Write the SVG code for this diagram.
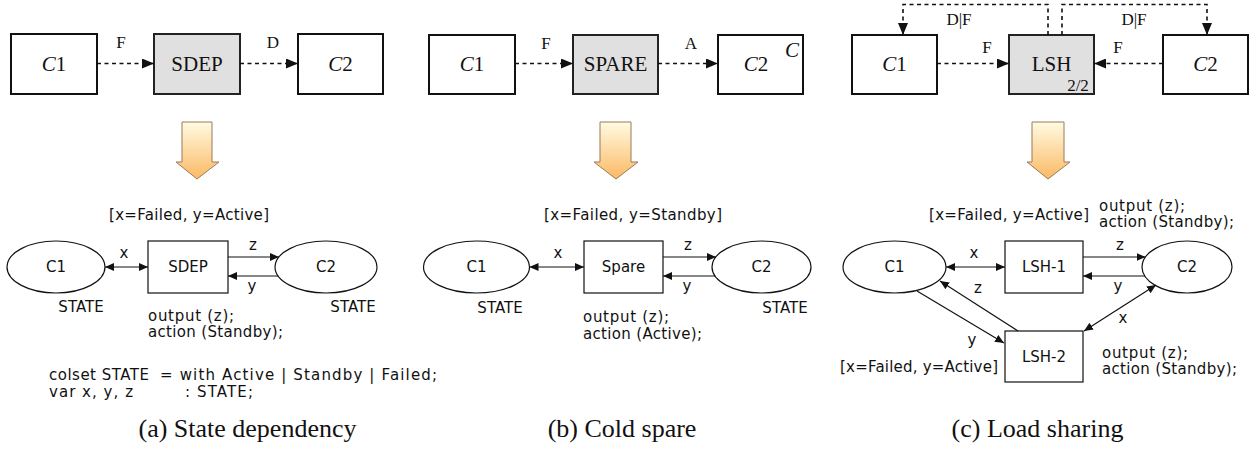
<svg xmlns="http://www.w3.org/2000/svg" width="1253" height="456" viewBox="0 0 1253 456">
  <style>
    .bg { fill: #ffffff; }
    .box { fill: #ffffff; stroke: #111; stroke-width: 2; }
    .gate { fill: #e0e0e0; stroke: #222; stroke-width: 2; }
    .serif { font-family: "Liberation Serif", "Times New Roman", serif; fill: #111; }
    .big { font-size: 21px; }
    .lbl { font-size: 17px; }
    .cap { font-size: 26px; }
    .it { font-style: italic; }
    .sans { font-family: "DejaVu Sans", "Liberation Sans", sans-serif; font-size: 15px; fill: #111; }
    .dash { fill: none; stroke: #111; stroke-width: 1.6; stroke-dasharray: 4 3.5; }
    .arc { fill: none; stroke: #111; stroke-width: 1.2; }
    .place { fill: #ffffff; stroke: #111; stroke-width: 1.2; }
    .trans { fill: #ffffff; stroke: #111; stroke-width: 1.2; }
    .block { fill: url(#orange); stroke: #9a7a58; stroke-width: 1; }
  </style>
  <defs>
    <marker id="ah" markerUnits="userSpaceOnUse" markerWidth="12" markerHeight="10" refX="12" refY="5" orient="auto">
      <path d="M0,0 L12,5 L0,10 z" fill="#111"/>
    </marker>
    <marker id="sa" markerUnits="userSpaceOnUse" markerWidth="9" markerHeight="8" refX="9" refY="4" orient="auto-start-reverse">
      <path d="M0,0 L9,4 L0,8 z" fill="#111"/>
    </marker>
    <linearGradient id="orange" x1="0" y1="0" x2="0" y2="1">
      <stop offset="0" stop-color="#fffbe2"/>
      <stop offset="1" stop-color="#fbb964"/>
    </linearGradient>
  </defs>

  <rect class="bg" x="0" y="0" width="1253" height="456"/>

  <!-- (a) state dependency: fault-tree view -->
  <g id="a-c1">
    <rect class="box" x="11" y="34" width="86" height="60"/>
    <text class="serif big" x="54" y="71" text-anchor="middle"><tspan class="it">C</tspan>1</text>
  </g>
  <g id="a-sdep">
    <rect class="gate" x="154" y="34" width="86" height="60"/>
    <text class="serif big" x="197" y="71" text-anchor="middle">SDEP</text>
  </g>
  <g id="a-c2">
    <rect class="box" x="298" y="34" width="85" height="60"/>
    <text class="serif big" x="340.5" y="71" text-anchor="middle"><tspan class="it">C</tspan>2</text>
  </g>

  <!-- (b) cold spare: fault-tree view -->
  <g id="b-c1">
    <rect class="box" x="429" y="35" width="86" height="59"/>
    <text class="serif big" x="472" y="71" text-anchor="middle"><tspan class="it">C</tspan>1</text>
  </g>
  <g id="b-spare">
    <rect class="gate" x="573" y="35" width="85" height="59"/>
    <text class="serif big" x="615.5" y="71" text-anchor="middle">SPARE</text>
  </g>
  <g id="b-c2">
    <rect class="box" x="718" y="35" width="85" height="59"/>
    <text class="serif big" x="756" y="71" text-anchor="middle"><tspan class="it">C</tspan>2</text>
    <text class="serif big it" x="792" y="57" text-anchor="middle">C</text>
  </g>

  <!-- (c) load sharing: fault-tree view -->
  <g id="c-c1">
    <rect class="box" x="852" y="35" width="85" height="59"/>
    <text class="serif big" x="894.5" y="71" text-anchor="middle"><tspan class="it">C</tspan>1</text>
  </g>
  <g id="c-lsh">
    <rect class="gate" x="1009" y="35" width="85" height="59"/>
    <text class="serif big" x="1051.5" y="71" text-anchor="middle">LSH</text>
    <text class="serif lbl" x="1078" y="91" text-anchor="middle">2/2</text>
  </g>
  <g id="c-c2">
    <rect class="box" x="1163" y="35" width="85" height="59"/>
    <text class="serif big" x="1205.5" y="71" text-anchor="middle"><tspan class="it">C</tspan>2</text>
  </g>

  <!-- transformation arrows -->
  <g id="down-a"><path class="block" d="M182,122 H212 V162 H219 L197,179 L176,162 H182 Z"/></g>
  <g id="down-b"><path class="block" d="M600,122 H631 V162 H638 L616,179 L594,162 H600 Z"/></g>
  <g id="down-c"><path class="block" d="M1032,122 H1064 V162 H1070 L1048,179 L1027,162 H1032 Z"/></g>

  <!-- (a) coloured Petri net -->
  <g id="a-p1">
    <ellipse class="place" cx="56" cy="267" rx="49" ry="26"/>
    <text class="sans" x="56" y="272" text-anchor="middle">C1</text>
    <text class="sans" x="81" y="312" text-anchor="middle">STATE</text>
  </g>
  <g id="a-t">
    <rect class="trans" x="148" y="241" width="80" height="52"/>
    <text class="sans" x="188" y="272" text-anchor="middle">SDEP</text>
    <text class="sans" x="109" y="220" textLength="160">[x=Failed, y=Active]</text>
    <text class="sans" x="148" y="321" textLength="86">output (z);</text>
    <text class="sans" x="148" y="337" textLength="135">action (Standby);</text>
  </g>
  <g id="a-p2">
    <ellipse class="place" cx="326" cy="267" rx="51" ry="26"/>
    <text class="sans" x="326" y="272" text-anchor="middle">C2</text>
    <text class="sans" x="353" y="312" text-anchor="middle">STATE</text>
  </g>
  <g id="a-decl">
    <text class="sans" x="49" y="380" textLength="100">colset STATE</text>
    <text class="sans" x="160" y="380" textLength="277">= with Active | Standby | Failed;</text>
    <text class="sans" x="49" y="397" textLength="84">var x, y, z</text>
    <text class="sans" x="185" y="397" textLength="68">: STATE;</text>
  </g>

  <!-- (b) coloured Petri net -->
  <g id="b-p1">
    <ellipse class="place" cx="476.5" cy="267" rx="53" ry="26"/>
    <text class="sans" x="476.5" y="272" text-anchor="middle">C1</text>
    <text class="sans" x="500" y="313" text-anchor="middle">STATE</text>
  </g>
  <g id="b-t">
    <rect class="trans" x="584" y="241" width="79" height="52"/>
    <text class="sans" x="623.5" y="272" text-anchor="middle">Spare</text>
    <text class="sans" x="544" y="220" textLength="178">[x=Failed, y=Standby]</text>
    <text class="sans" x="583" y="322" textLength="86">output (z);</text>
    <text class="sans" x="583" y="339" textLength="119">action (Active);</text>
  </g>
  <g id="b-p2">
    <ellipse class="place" cx="761.5" cy="267" rx="49.5" ry="26"/>
    <text class="sans" x="761.5" y="272" text-anchor="middle">C2</text>
    <text class="sans" x="785" y="313" text-anchor="middle">STATE</text>
  </g>

  <!-- (c) coloured Petri net -->
  <g id="c-p1">
    <ellipse class="place" cx="894.5" cy="267" rx="51.5" ry="26"/>
    <text class="sans" x="894.5" y="272" text-anchor="middle">C1</text>
  </g>
  <g id="c-t1">
    <rect class="trans" x="1005" y="241" width="78" height="52"/>
    <text class="sans" x="1044" y="272" text-anchor="middle">LSH-1</text>
    <text class="sans" x="929" y="220" textLength="160">[x=Failed, y=Active]</text>
    <text class="sans" x="1099" y="211" textLength="86">output (z);</text>
    <text class="sans" x="1099" y="227" textLength="135">action (Standby);</text>
  </g>
  <g id="c-p2">
    <ellipse class="place" cx="1187" cy="267" rx="45" ry="26"/>
    <text class="sans" x="1187" y="272" text-anchor="middle">C2</text>
  </g>
  <g id="c-t2">
    <rect class="trans" x="1005" y="331" width="78" height="51"/>
    <text class="sans" x="1044" y="362" text-anchor="middle">LSH-2</text>
    <text class="sans" x="840" y="372" textLength="158">[x=Failed, y=Active]</text>
    <text class="sans" x="1102" y="358" textLength="86">output (z);</text>
    <text class="sans" x="1102" y="374" textLength="135">action (Standby);</text>
  </g>

  <!-- connectors -->
  <g id="connectors">
    <!-- fault-tree dependencies -->
    <line class="dash" x1="97" y1="63.5" x2="154" y2="63.5" marker-end="url(#ah)"/>
    <line class="dash" x1="240" y1="63.5" x2="298" y2="63.5" marker-end="url(#ah)"/>
    <line class="dash" x1="515" y1="63.5" x2="573" y2="63.5" marker-end="url(#ah)"/>
    <line class="dash" x1="658" y1="63.5" x2="718" y2="63.5" marker-end="url(#ah)"/>
    <line class="dash" x1="937" y1="63.5" x2="1009" y2="63.5" marker-end="url(#ah)"/>
    <line class="dash" x1="1163" y1="63.5" x2="1094" y2="63.5" marker-end="url(#ah)"/>
    <path class="dash" d="M1048,35 V4.5 H903 V35" marker-end="url(#ah)"/>
    <path class="dash" d="M1062,35 V4.5 H1207 V35" marker-end="url(#ah)"/>
    <text class="serif lbl" x="121" y="48" text-anchor="middle">F</text>
    <text class="serif lbl" x="273" y="48" text-anchor="middle">D</text>
    <text class="serif lbl" x="546" y="49" text-anchor="middle">F</text>
    <text class="serif lbl" x="691" y="49" text-anchor="middle">A</text>
    <text class="serif lbl" x="987" y="53" text-anchor="middle">F</text>
    <text class="serif lbl" x="1118" y="53" text-anchor="middle">F</text>
    <text class="serif lbl" x="959" y="25" text-anchor="middle">D|F</text>
    <text class="serif lbl" x="1134" y="25" text-anchor="middle">D|F</text>

    <!-- (a) arcs -->
    <line class="arc" x1="105" y1="267" x2="148" y2="267" marker-start="url(#sa)" marker-end="url(#sa)"/>
    <line class="arc" x1="228" y1="257" x2="279" y2="257" marker-end="url(#sa)"/>
    <line class="arc" x1="278" y1="276" x2="228" y2="276" marker-end="url(#sa)"/>
    <text class="sans" x="124" y="258" text-anchor="middle">x</text>
    <text class="sans" x="253" y="250" text-anchor="middle">z</text>
    <text class="sans" x="252" y="291" text-anchor="middle">y</text>

    <!-- (b) arcs -->
    <line class="arc" x1="529.5" y1="267" x2="584" y2="267" marker-start="url(#sa)" marker-end="url(#sa)"/>
    <line class="arc" x1="663" y1="257" x2="716" y2="257" marker-end="url(#sa)"/>
    <line class="arc" x1="715" y1="276" x2="663" y2="276" marker-end="url(#sa)"/>
    <text class="sans" x="558" y="258" text-anchor="middle">x</text>
    <text class="sans" x="688" y="250" text-anchor="middle">z</text>
    <text class="sans" x="687" y="291" text-anchor="middle">y</text>

    <!-- (c) arcs -->
    <line class="arc" x1="946" y1="267" x2="1005" y2="267" marker-start="url(#sa)" marker-end="url(#sa)"/>
    <line class="arc" x1="1083" y1="257" x2="1145.5" y2="257" marker-end="url(#sa)"/>
    <line class="arc" x1="1145" y1="276" x2="1083" y2="276" marker-end="url(#sa)"/>
    <line class="arc" x1="917" y1="291" x2="1004" y2="343" marker-end="url(#sa)"/>
    <line class="arc" x1="1018" y1="331" x2="940" y2="281" marker-end="url(#sa)"/>
    <line class="arc" x1="1156" y1="285" x2="1084" y2="331" marker-start="url(#sa)" marker-end="url(#sa)"/>
    <text class="sans" x="974" y="258" text-anchor="middle">x</text>
    <text class="sans" x="1120" y="250" text-anchor="middle">z</text>
    <text class="sans" x="1118" y="291" text-anchor="middle">y</text>
    <text class="sans" x="978" y="293" text-anchor="middle">z</text>
    <text class="sans" x="972" y="345" text-anchor="middle">y</text>
    <text class="sans" x="1123" y="323" text-anchor="middle">x</text>
  </g>

  <!-- captions -->
  <text class="serif cap" x="247.5" y="437" text-anchor="middle">(a) State dependency</text>
  <text class="serif cap" x="622" y="437" text-anchor="middle">(b) Cold spare</text>
  <text class="serif cap" x="1037.5" y="437" text-anchor="middle">(c) Load sharing</text>
</svg>
